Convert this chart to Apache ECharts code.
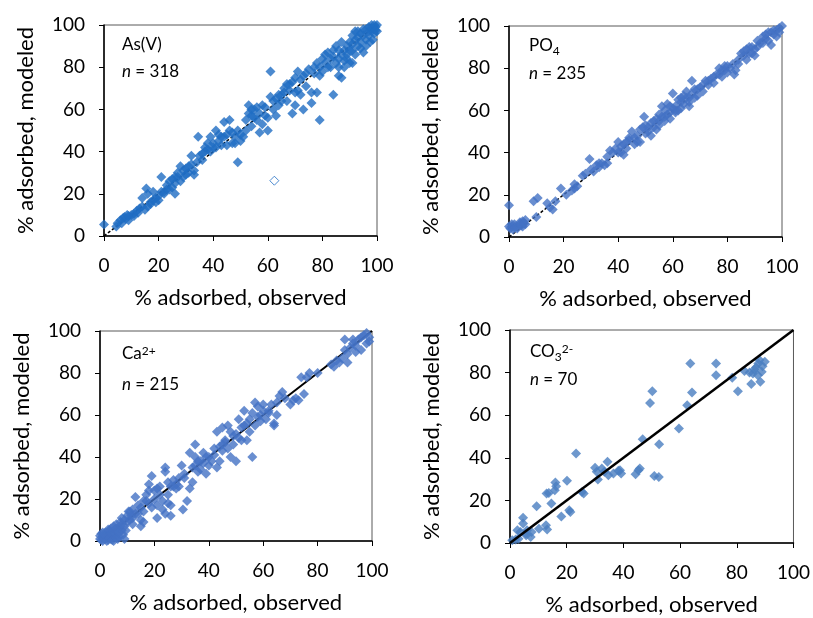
<!DOCTYPE html>
<html>
<head>
<meta charset="utf-8">
<script src="https://cdn.jsdelivr.net/npm/echarts@6/dist/echarts.min.js"></script>
<style>
  html, body { margin: 0; padding: 0; background: #fff; }
  #chart { width: 813px; height: 618px; }
</style>
</head>
<body>
<div id="chart"></div>
<script>
// Observed vs. modeled % adsorbed, four species, each pair is [observed, modeled]
const asPoints = [
  [0,5.5],[4.5,4.5],[5,6],[6,7.5],[7,8.5],[7.5,9],[8,8],[9,9.5],[9,7.5],[10,10],[11,9.5],[11,10.5],
  [12,12],[13,13],[14,14],[14,18],[15,12.5],[15.5,22.5],[16,14],[16,20],[17,15],[17,16],[18,17],[18,21],
  [19,18],[20,19],[20,17],[21,28],[22,21],[22,20],[23,24],[24,22],[24,26],[25,23],[25,27],[26,20],
  [26,25],[27,28],[27,30],[28,26],[28,33],[29,31],[30,29],[30,32],[31,30],[32,38],[32,34],[33,29],
  [33,31],[34,35],[34.5,47],[35,38],[36,36],[37,40],[38,44],[38,41],[39,40],[39,47],[40,42],[40,44],
  [41,50],[41,42],[42,45],[43,43],[44,54],[44,47],[45,43],[45,48],[46,55],[46,50],[47,44],[47,49],
  [48,47],[49,35],[49,50],[50,45],[50,48],[51,47],[52,55],[53,58],[53,62],[54,57],[54,52],[55,60],
  [55,56],[56,55],[56,61],[57,49],[57,58],[58,53],[58,62],[59,57],[60,50],[60,56],[61,66],[61,78],
  [62,60],[63,65],[63,57],[64,62],[64,67],[65,64],[66,68],[66,70],[67,64],[67,72],[68,69],[69,73],
  [69,58],[70,62],[70,75],[71,69],[71,78],[72,67],[72,74],[73,60],[73,76],[74,71],[75,79],[76,63],
  [76,68],[77,80],[78,82],[78,68],[79,55],[79,76],[80,84],[80,78],[81,86],[82,80],[82,87],[83,84],
  [84,67],[84,88],[85,82],[85,90],[86,76],[86,84],[87,92],[87,75],[88,88],[88,83],[89,86],[89,90],
  [90,92],[90,82],[91,95],[91,88],[92,97],[92,86],[93,90],[93,94],[94,92],[94,96],[95,87],[95,95],
  [96,93],[96,98],[97,95],[97,99],[98,97],[98,100],[99,98],[99,96],[100,100],[100,97],[99.5,99],
  [97.5,92],[96,90],[98.5,93],
  [6.5,6],[8.5,10],[12.5,11],[19,16],[21,21],[23,22],[26,28],[29,28],[31,33],[36,39],[37,42],
  [42,48],[43,47],[48,44],[52,50],[54,60],[59,61],[62,64],[65,67],[68,72],[70,68],[74,77],
  [77,77],[79,80],[81,82],[83,80],[84,85],[86,88],[87,86],[89,84],[90,88],[91,91],[92,93],
  [93,97],[94,89],[95,98],[97,97],[98,98.5],[99,100],[99.5,97.5],[88,80],[86,80],[91,82]
];
const asOutlier = [[62.4,26.2]];

const po4Points = [
  [0,15],[0,5],[0.5,4],[1,5],[1,6],[2,4.5],[2,6],[3,5],[3,4],[4,6],[4,7],[5,5],[5,7.5],[6,6],[6,8],
  [9,17],[10.5,18.5],[10,9.5],[14,16],[15,14],[16,13],[17,17],[19,23],[21,20],[23,22],[24,25],[25,24],
  [28,30],[29.5,37],[30,32],[31,31],[32,34],[33,33],[34,35],[35,34],[36,38],[37,41],[38,40],[39,42],
  [40,45],[40,40],[41,43],[42,44],[42,39],[43,42],[44,46],[44,47],[45,50],[46,44],[46,47],[47,48],
  [48,45],[48,51],[49,52],[49.5,57],[50,49],[50,53],[51,50],[52,54],[52,48],[53,52],[54,56],[54,51],
  [55,58],[55,53],[56,62],[56,57],[57,55],[57,60],[58,63],[58,58],[59,59],[59,56],[60,61],[60,68],
  [61,62],[61,59],[62,65],[62,60],[63,64],[63,61],[64,67],[64,63],[65,66],[65,69],[66,64],[66,62],
  [67,74],[67,68],[68,66],[68,70],[69,67],[70,71],[71,69],[72,74],[73,72],[74,75],[75,73],[76,77],
  [77,80],[78,79],[78,76],[79,81],[80,78],[81,80],[82,82],[82.5,77],[83,79],[84,84],[85,87],[86,86],
  [87,89],[87,84],[88,90],[89,87],[90,89],[90,86],[91,93],[92,92],[93,95],[94,94],[95,93],[96,91],
  [96,97],[97,96],[98,98],[99,99],[100,100],[98,95],[95,97],
  [1.5,3.5],[4.5,5.5],[5.5,6.5],[24,23],[27,29],[33,35],[36,35],[41,40],[43,45],[47,45],[51,52],
  [53,55],[55,55],[57,57],[59,62],[61,60],[63,66],[66,66],[69,70],[71,72],[73,74],[75,76],[77,77],
  [79,79],[80,81],[84,82],[86,88],[88,87],[89,90],[91,90],[93,92],[94,96],[97,98],[99,97]
];

const caPoints = [
  [0,1],[0.5,0.5],[1,2],[1,0],[1.5,3],[2,1],[2,4],[2.5,2],[3,0.5],[3,3],[3.5,5],[4,1],[4,6],[4.5,3],
  [5,0],[5,7],[5.5,2],[6,4],[6,8],[6.5,1],[7,6],[7,2],[7.5,9],[8,5],[8,11],[8.5,3],[9,7],[9,1],
  [10,12],[10,9],[11,14],[11,10],[12,8],[12,15],[13,13],[13,21],[14,17],[15,10],[15,7],[16,9],
  [16,14],[17,22],[17,19],[18,27],[18,24],[19,31],[19,16],[20,20],[20,24],[21,11],[21,17],[22,22],
  [22,26],[23,19],[23,15],[24,33],[24,35],[24,13],[25,28],[25,18],[26,17],[26,12],[26,26],[27,29],
  [28,27],[28,25],[29,26],[30,36],[30.5,15],[31,30],[32,19],[33,42],[33,25],[34,28],[34,35],[35,46],
  [35,40],[36,38],[36,33],[37,34],[38,42],[38,37],[39,32],[40,36],[40,40],[41,38],[42,44],[43,52],
  [43,35],[44,45],[44,38],[45,54],[45,43],[46,47],[46,48],[47,55],[47,44],[48,40],[48,52],[49,46],
  [50,51],[50,38],[51,58],[51,49],[52,48],[53,62],[53,55],[54,48],[55,52],[55,58],[56,40],[56,61],
  [57,55],[57,66],[58,59],[58,64],[59,57],[60,65],[60,62],[61,58],[62,61],[63,65],[64,56],[64,55],
  [65,60],[66,69],[67,71],[68,68],[70,65],[71,67],[72,68],[73,67],[74,78],[75,70],[76,78],[77,80],
  [80,80],[85,84],[86,83],[87,86],[88,85],[89,87],[90,91],[90,96],[91,89],[92,92],[93,94],[94,90],
  [95,96],[96,97],[97,98],[98,99],[99,95],[99,97],[98,94],[96,91],[94,93],[93,96],[91,85],
  [0,2.5],[0.5,3.5],[1,4],[1.5,1],[2,2.5],[2.5,0],[3,5.5],[3.5,1.5],[4,3.5],[4.5,0.5],[5,4],
  [5.5,5.5],[6,1.5],[6,6],[7,4],[7.5,7],[8,8],[9,10],[9.5,5],[10.5,14],[11.5,12],[12,11],[14,13],
  [15,16],[16,19],[18,18],[21,25],[25,22],[27,26],[29,30],[31,32],[35,36],[37,38],[39,40],[42,41],
  [45,46],[49,50],[52,54],[54,56],[59,60],[62,62],[65,66]
];

const co3Points = [
  [0.8,1.3],[2,1.6],[3,2],[2.6,6],[3.7,5.2],[4.6,11.9],[4.6,9.1],[5.7,3.6],[6,6],[7.3,2.8],[7.6,5.2],
  [9.4,17.2],[10.2,6.7],[12.9,23.2],[13.7,23.5],[12.7,8.3],[13.1,6.3],[14.6,18.5],[16,28.4],[16.3,26.6],
  [15.8,24.8],[18.1,12.5],[20.1,29.2],[20.9,15.4],[21.3,14.6],[23.3,42],[25.4,24],[26,23.2],[30,35.3],
  [30.6,33.4],[31,29.8],[32.4,35],[33.3,33.4],[34.4,38.1],[34.7,31.8],[36.5,32.6],[38.2,33.9],[39.2,32.6],
  [38.8,34.2],[44.3,32.3],[45.3,34.2],[45.8,35],[46.8,48.7],[49.4,65.7],[50.2,71.3],[50.9,31.5],[52.5,31],
  [52.6,46.4],[59.6,53.8],[62.5,64.7],[63.6,84.3],[64.2,70.7],[72.7,84.3],[72.7,78.8],[78.4,77.6],
  [80.4,71.3],[82.7,80.7],[84.5,80],[85.1,74.6],[85.7,79.6],[86.8,82.4],[87.6,84.3],[88,85.9],[88.3,75.7],
  [88.8,80.4],[89.1,83],[89.9,85.1],[87.4,78.8],[86.2,81.5],[5.5,4.5]
];

// 1:1 reference line end points
const oneToOne = [[0,0],[100,100]];

const axisMin = 0, axisMax = 100, axisStep = 20;
const xTitle = '% adsorbed, observed';
const yTitle = '% adsorbed, modeled';

const FONT = 'Lato, "Open Sans", sans-serif';

const grids = [
  { left: 104, top: 25, width: 273, height: 211 },
  { left: 509, top: 26, width: 273, height: 211 },
  { left: 100, top: 331, width: 272, height: 210 },
  { left: 510, top: 330, width: 285, height: 213 }
];

function axis(i, isX) {
  return {
    type: 'value', gridIndex: i, min: axisMin, max: axisMax, interval: axisStep,
    axisLine: { show: true, onZero: false, lineStyle: { color: '#000', width: 1.5 } },
    axisTick: { show: true, inside: false, length: 5, lineStyle: { color: '#000', width: 1 } },
    splitLine: { show: false },
    axisLabel: { color: '#000', fontSize: 19, fontFamily: FONT, margin: isX ? 20 : 19 },
    name: isX ? xTitle : yTitle,
    nameLocation: 'middle',
    nameGap: isX ? 51 : 67,
    nameTextStyle: { color: '#000', fontSize: 22, fontFamily: FONT }
  };
}

const markerBase = { type: 'scatter', symbol: 'diamond', symbolSize: 10 };

function refLine(i, style, z) {
  return {
    type: 'line', xAxisIndex: i, yAxisIndex: i, data: oneToOne, symbol: 'none',
    lineStyle: style, z: z, silent: true
  };
}

const labelStyle = {
  fontFamily: FONT, fontSize: 17, fill: '#000',
  rich: {
    n: { fontFamily: FONT, fontSize: 17, fontStyle: 'italic', color: '#000' },
    sub: { fontFamily: FONT, fontSize: 12, color: '#000', verticalAlign: 'bottom', lineHeight: 12, padding: [0, 0, -3, 0] },
    sup: { fontFamily: FONT, fontSize: 12, color: '#000', verticalAlign: 'top', lineHeight: 12, padding: [0, 0, 8, 0] }
  }
};

function textEl(x, y, text) {
  return { type: 'text', left: x, top: y, style: Object.assign({ text: text }, labelStyle) };
}

const option = {
  backgroundColor: '#fff',
  animation: false,
  grid: grids.map(g => Object.assign({ show: true, borderColor: '#595959', borderWidth: 1, backgroundColor: 'transparent' }, g)),
  xAxis: grids.map((g, i) => axis(i, true)),
  yAxis: grids.map((g, i) => axis(i, false)),
  series: [
    refLine(0, { color: '#000', width: 1.5, type: [3, 2] }, 1),
    Object.assign({}, markerBase, { xAxisIndex: 0, yAxisIndex: 0, data: asPoints, itemStyle: { color: '#1F6DC3' }, z: 2 }),
    Object.assign({}, markerBase, { xAxisIndex: 0, yAxisIndex: 0, data: asOutlier, symbolSize: 9, itemStyle: { color: '#fff', borderColor: '#1F6DC3', borderWidth: 1 }, z: 2 }),
    refLine(1, { color: '#000', width: 1.5, type: [3, 2] }, 1),
    Object.assign({}, markerBase, { xAxisIndex: 1, yAxisIndex: 1, data: po4Points, itemStyle: { color: '#4472C4' }, z: 2 }),
    refLine(2, { color: '#000', width: 2 }, 1),
    Object.assign({}, markerBase, { xAxisIndex: 2, yAxisIndex: 2, data: caPoints, itemStyle: { color: '#4472C4' }, z: 2 }),
    Object.assign({}, markerBase, { xAxisIndex: 3, yAxisIndex: 3, data: co3Points, itemStyle: { color: '#4A7EC0' }, z: 2 }),
    refLine(3, { color: '#000', width: 2.5 }, 3)
  ],
  graphic: [
    textEl(122, 36, 'As(V)'),
    textEl(122, 63, '{n|n} = 318'),
    textEl(529, 37, 'PO{sub|4}'),
    textEl(529, 65, '{n|n} = 235'),
    textEl(122, 345, 'Ca{sup|2+}'),
    textEl(122, 376, '{n|n} = 215'),
    textEl(530, 343, 'CO{sub|3}{sup|2-}'),
    textEl(530, 371, '{n|n} = 70')
  ]
};

const chart = echarts.init(document.getElementById('chart'), null, { renderer: 'canvas' });
chart.setOption(option);
</script>
</body>
</html>
